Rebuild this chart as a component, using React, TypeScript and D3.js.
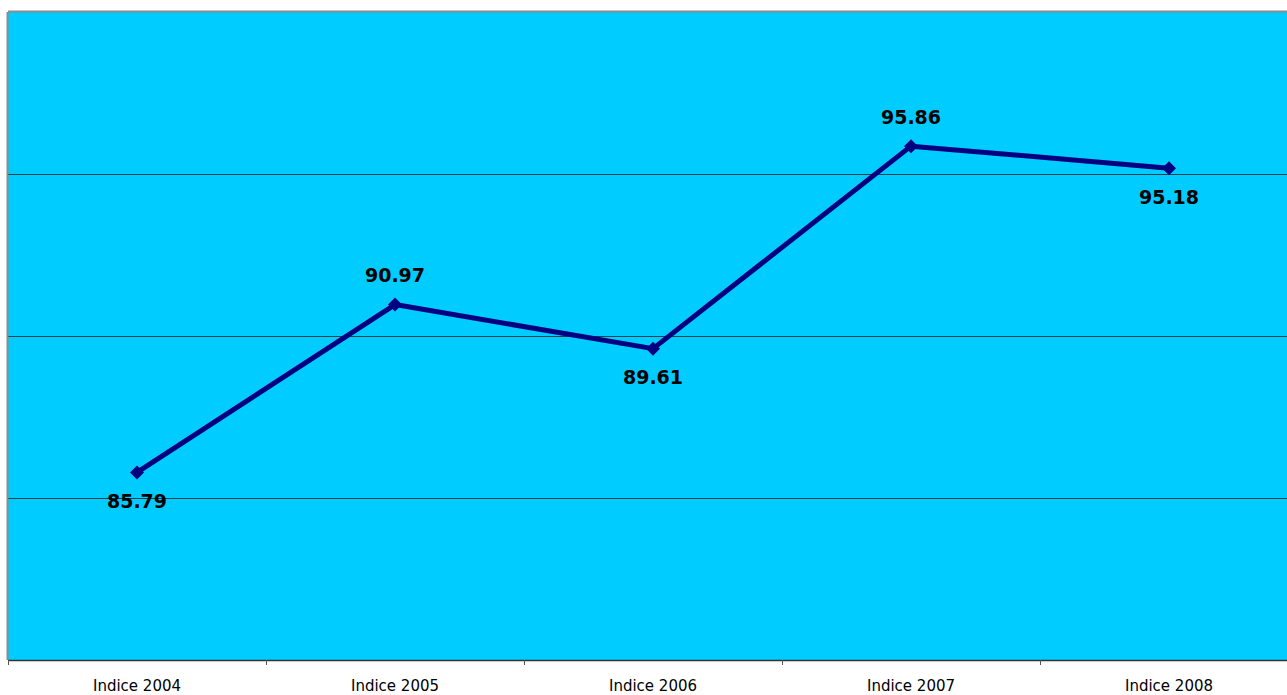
import React from 'react';
import * as d3 from 'd3';

const categories = ['Indice 2004', 'Indice 2005', 'Indice 2006', 'Indice 2007', 'Indice 2008'];
const values = [85.79, 90.97, 89.61, 95.86, 95.18];
// label above (-1) or below (+1) the marker
const labelSide = [1, -1, 1, -1, 1];
const gridValues = [85, 90, 95];

export default function App() {
  const W = 1287;
  const H = 695;
  const left = 8;
  const right = 1298; // plot runs a little past the window edge
  const top = 12;
  const bottom = 660;

  const x = d3.scaleBand<string>().domain(categories).range([left, right]);
  const y = d3.scaleLinear().domain([80, 100]).range([bottom, top]);
  const cx = (c: string) => (x(c) || 0) + x.bandwidth() / 2;

  const line = d3.line<number>()
    .x((_, i) => cx(categories[i]))
    .y(d => y(d));

  const tickXs = categories.map(c => x(c) || 0);
  const m = 7; // diamond half-size

  return (
    <div style={{ position: 'absolute', left: 0, top: 0 }}>
      <svg width={W} height={H} style={{ display: 'block', background: '#ffffff' }}>
        <rect x={left} y={top} width={right - left} height={bottom - top} fill="#00ccff" />
        {gridValues.map(v => (
          <line key={v} x1={left} x2={right} y1={y(v) + 0.5} y2={y(v) + 0.5} stroke="#1d3f4a" strokeWidth={1} />
        ))}
        {/* plot border top/left */}
        <line x1={left} x2={right} y1={top - 0.5} y2={top - 0.5} stroke="#8c8c8c" strokeWidth={2} />
        <line x1={left - 0.5} x2={left - 0.5} y1={top} y2={bottom} stroke="#8c8c8c" strokeWidth={2} />
        {/* x axis */}
        <line x1={left} x2={right} y1={bottom + 0.5} y2={bottom + 0.5} stroke="#333333" strokeWidth={1.5} />
        {tickXs.map((t, i) => (
          <line key={i} x1={t + 0.5} x2={t + 0.5} y1={bottom} y2={bottom + 5} stroke="#555555" strokeWidth={1} />
        ))}
        {categories.map(c => (
          <text key={c} x={cx(c)} y={690.5} textAnchor="middle" fontFamily="DejaVu Sans, sans-serif" fontSize={15} fill="#000">
            {c}
          </text>
        ))}
        <path d={line(values) || ''} fill="none" stroke="#000080" strokeWidth={5} strokeLinejoin="round" />
        {values.map((v, i) => {
          const px = cx(categories[i]);
          const py = y(v);
          return (
            <path key={i} d={`M${px},${py - m}L${px + m},${py}L${px},${py + m}L${px - m},${py}Z`} fill="#000080" />
          );
        })}
        {values.map((v, i) => (
          <text key={'l' + i} x={cx(categories[i])} y={y(v) + labelSide[i] * 29} dy="0.36em" textAnchor="middle"
            fontFamily="DejaVu Sans, sans-serif" fontWeight="bold" fontSize={19} fill="#000">
            {v.toFixed(2)}
          </text>
        ))}
      </svg>
    </div>
  );
}
